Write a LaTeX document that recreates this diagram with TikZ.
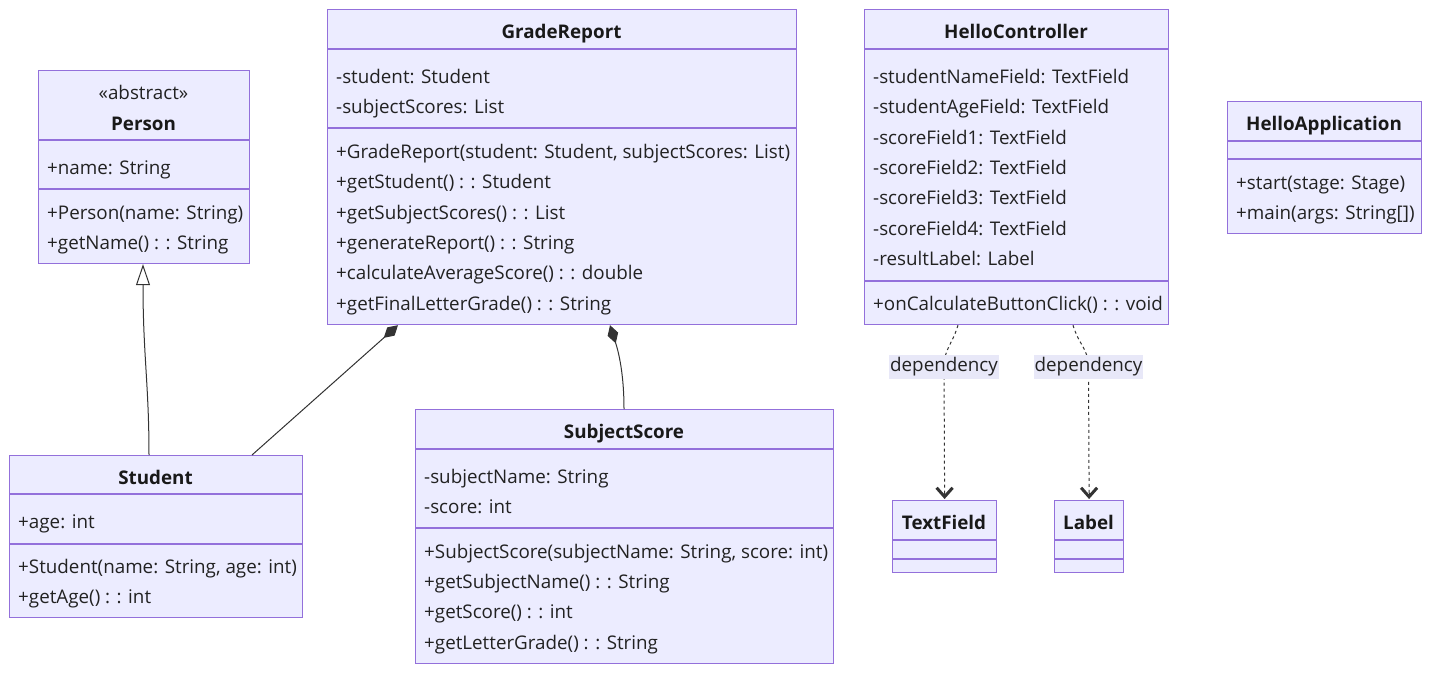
\documentclass[tikz,border=0pt]{standalone}
\usepackage{fontspec}
\setmainfont{Open Sans}
\usetikzlibrary{arrows.meta}
\definecolor{boxfill}{HTML}{ECECFF}
\definecolor{boxline}{HTML}{9370DB}
\definecolor{edgec}{HTML}{333333}
\definecolor{txtc}{HTML}{222222}
\definecolor{lblbg}{HTML}{E8E8F8}
\begin{document}
\begin{tikzpicture}[x=1pt,y=-1pt,
 cls/.style={draw=boxline, fill=boxfill, line width=1.2pt, inner sep=0, anchor=north west},
 mem/.style={anchor=base west, inner sep=0, yshift=-1pt, font=\fontsize{18.8}{22}\selectfont, text=txtc},
 ttl/.style={anchor=base, inner sep=0, yshift=-1pt, font=\fontsize{18.8}{22}\selectfont\bfseries, text=black!90},
 stereo/.style={anchor=base, inner sep=0, yshift=-1pt, font=\fontsize{18.8}{22}\selectfont, text=txtc},
 divl/.style={draw=boxline, line width=1.2pt},
 edge/.style={draw=edgec, line width=1pt},
 dep/.style={edge, dash pattern=on 3pt off 3pt},
 chev/.style={draw=edgec, line width=1pt, -{Straight Barb[length=9pt,width=16pt,line width=3pt]}},
 lbl/.style={fill=lblbg, inner xsep=1pt, inner ysep=3pt, font=\fontsize{18.8}{22}\selectfont, text=txtc}
]
\useasboundingbox[fill=white] (0,0) rectangle (1430,673);

% ---------- Person
\node[cls, minimum width=211pt, minimum height=193pt] (person) at (38,70) {};
\draw[divl] (38,140) -- (249,140);
\draw[divl] (38,189) -- (249,189);
\node[stereo] (pst) at (143.5,98) {«abstract»};
\node[ttl] (pti) at (143.5,129) {Person};
\node[mem] (p1) at (47,173) {+name: String};
\node[mem] (p2) at (47,218) {+Person(name: String)};
\node[mem] (p3) at (47,248) {+getName() : : String};

% ---------- GradeReport
\node[cls, minimum width=469pt, minimum height=315pt] (gr) at (327,9) {};
\draw[divl] (327,49) -- (796,49);
\draw[divl] (327,128) -- (796,128);
\node[ttl] (gti) at (561.5,37) {GradeReport};
\node[mem] (g1) at (336,82) {-student: Student};
\node[mem] (g2) at (336,112) {-subjectScores: List};
\node[mem] (g3) at (336,157) {+GradeReport(student: Student, subjectScores: List)};
\node[mem] (g4) at (336,187) {+getStudent() : : Student};
\node[mem] (g5) at (336,218) {+getSubjectScores() : : List};
\node[mem] (g6) at (336,248) {+generateReport() : : String};
\node[mem] (g7) at (336,278) {+calculateAverageScore() : : double};
\node[mem] (g8) at (336,309) {+getFinalLetterGrade() : : String};

% ---------- Student
\node[cls, minimum width=293pt, minimum height=162pt] (student) at (9,455) {};
\draw[divl] (9,494) -- (302,494);
\draw[divl] (9,544) -- (302,544);
\node[ttl] (sti) at (155.5,483) {Student};
\node[mem] (s1) at (18,527) {+age: int};
\node[mem] (s2) at (18,572) {+Student(name: String, age: int)};
\node[mem] (s3) at (18,602) {+getAge() : : int};

% ---------- SubjectScore
\node[cls, minimum width=418pt, minimum height=254pt] (ss) at (415,409) {};
\draw[divl] (415,449) -- (833,449);
\draw[divl] (415,528) -- (833,528);
\node[ttl] (ssti) at (624,437) {SubjectScore};
\node[mem] (ss1) at (424,482) {-subjectName: String};
\node[mem] (ss2) at (424,512) {-score: int};
\node[mem] (ss3) at (424,557) {+SubjectScore(subjectName: String, score: int)};
\node[mem] (ss4) at (424,587) {+getSubjectName() : : String};
\node[mem] (ss5) at (424,617) {+getScore() : : int};
\node[mem] (ss6) at (424,648) {+getLetterGrade() : : String};

% ---------- HelloController
\node[cls, minimum width=304pt, minimum height=315pt] (hc) at (864,9) {};
\draw[divl] (864,49) -- (1168,49);
\draw[divl] (864,281) -- (1168,281);
\node[ttl] (hcti) at (1016,37) {HelloController};
\node[mem] (h1) at (873,82) {-studentNameField: TextField};
\node[mem] (h2) at (873,112) {-studentAgeField: TextField};
\node[mem] (h3) at (873,143) {-scoreField1: TextField};
\node[mem] (h4) at (873,173) {-scoreField2: TextField};
\node[mem] (h5) at (873,203) {-scoreField3: TextField};
\node[mem] (h6) at (873,234) {-scoreField4: TextField};
\node[mem] (h7) at (873,264) {-resultLabel: Label};
\node[mem] (h8) at (873,309) {+onCalculateButtonClick() : : void};

% ---------- HelloApplication
\node[cls, minimum width=194pt, minimum height=132pt] (ha) at (1227,101) {};
\draw[divl] (1227,141) -- (1421,141);
\draw[divl] (1227,159) -- (1421,159);
\node[ttl] (hati) at (1324,129) {HelloApplication};
\node[mem] (a1) at (1236,188) {+start(stage: Stage)};
\node[mem] (a2) at (1236,218) {+main(args: String[])};

% ---------- TextField
\node[cls, minimum width=104pt, minimum height=72pt] (tf) at (892,500) {};
\draw[divl] (892,540) -- (996,540);
\draw[divl] (892,559) -- (996,559);
\node[ttl] (tfti) at (944,528) {TextField};

% ---------- Label
\node[cls, minimum width=69pt, minimum height=72pt] (lb) at (1054,500) {};
\draw[divl] (1054,540) -- (1123,540);
\draw[divl] (1054,559) -- (1123,559);
\node[ttl] (lbti) at (1088.5,528) {Label};

% ---------- Connectors
% inheritance Student -> Person
\draw[edge, -{Triangle[open,length=21pt,width=14pt,fill=white,line width=1pt]}]
  ([xshift=140pt]student.north west) .. controls +(0,-70) and +(0,90) .. ([xshift=105pt]person.south west);
% composition GradeReport *-- Student
\draw[edge, -{Diamond[length=19pt,width=11pt,fill=edgec]}]
  ([xshift=243pt]student.north west) -- ([xshift=71pt]gr.south west);
% composition GradeReport *-- SubjectScore
\draw[edge, -{Diamond[length=19pt,width=11pt,fill=edgec]}]
  ([xshift=209pt]ss.north west) .. controls +(0,-40) and +(7,22) .. ([xshift=283pt]gr.south west);
% dependencies
\coordinate (d1) at (944,367);
\coordinate (d2) at (1088.5,367);
\draw[dep] ([xshift=94pt]hc.south west) .. controls +(-6,20) and +(0,-18) .. (d1) -- ([yshift=5pt]tf.north);
\draw[dep] ([xshift=209pt]hc.south west) .. controls +(6,20) and +(0,-18) .. (d2) -- ([yshift=5pt]lb.north);
\draw[chev] ([yshift=7pt]tf.north) -- ([yshift=1pt]tf.north);
\draw[chev] ([yshift=7pt]lb.north) -- ([yshift=1pt]lb.north);
\node[lbl] (l1) at (d1) {dependency};
\node[lbl] (l2) at (d2) {dependency};
\end{tikzpicture}
\end{document}
